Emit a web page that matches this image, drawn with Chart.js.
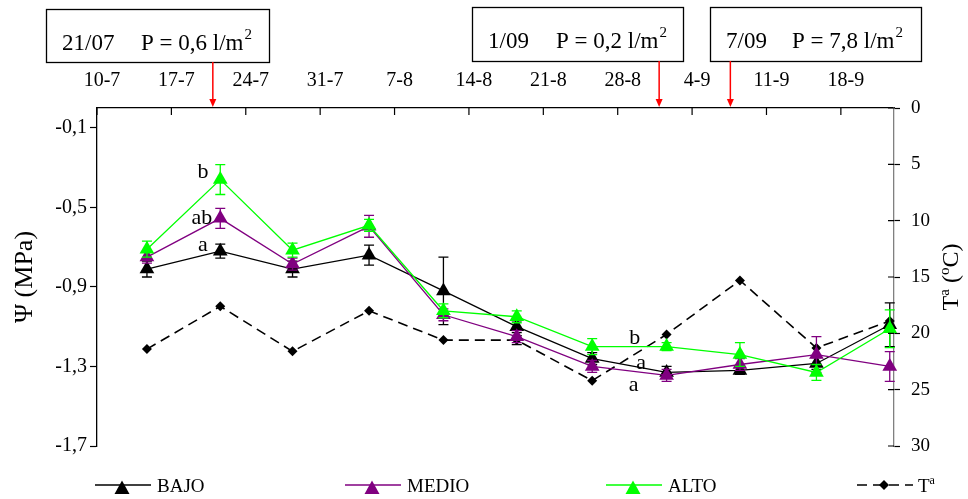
<!DOCTYPE html>
<html>
<head>
<meta charset="utf-8">
<script src="https://cdn.jsdelivr.net/npm/chart.js@4.4.1/dist/chart.umd.min.js"></script>
<style>
  html, body { margin: 0; padding: 0; background: #fff; }
</style>
</head>
<body>
<canvas id="psi-chart" width="968" height="499"></canvas>
<script>
// x values are days counted from 10 July
const weekDays = [0, 7, 14, 21, 28, 35, 42, 49, 56, 63, 70];
const weekLabels = ['10-7', '17-7', '24-7', '31-7', '7-8', '14-8', '21-8', '28-8', '4-9', '11-9', '18-9'];
const sampleDays = [4.7, 11.6, 18.4, 25.6, 32.6, 39.5, 46.6, 53.6, 60.5, 67.7, 74.6];

// water potential (MPa) per treatment, with error bars
const psiBajo  = [-0.81, -0.72, -0.81, -0.74, -0.92, -1.10, -1.26, -1.33, -1.32, -1.285, -1.09];
const psiMedio = [-0.75, -0.555, -0.785, -0.595, -1.04, -1.15, -1.30, -1.345, -1.29, -1.24, -1.30];
const psiAlto  = [-0.71, -0.36, -0.715, -0.59, -1.02, -1.05, -1.20, -1.20, -1.24, -1.33, -1.11];
const errBajo  = [0.04, 0.035, 0.04, 0.05, 0.17, 0.03, 0.03, 0.03, 0.02, 0.03, 0.11];
const errMedio = [0.03, 0.05, 0.03, 0.055, 0.03, 0.03, 0.03, 0.03, 0.03, 0.09, 0.075];
const errAlto  = [0.04, 0.075, 0.035, 0.03, 0.035, 0.03, 0.04, 0.02, 0.06, 0.04, 0.095];

// air temperature (°C), right axis
const tempMedia = [21.4, 17.6, 21.6, 18.0, 20.6, 20.6, 24.2, 20.1, 15.3, 21.3, 18.9];
const errTemp   = [0, 0, 0, 0, 0, 0.4, 0, 0, 0, 0, 0];

const psiTicks = [-1.7, -1.3, -0.9, -0.5, -0.1];

// rain events
const rainDates = ['21/07', '1/09', '7/09'];
const rainAmount = ['0,6', '0,2', '7,8'];
const rainDays = [10.9, 52.9, 59.6];

// significance letters
const sigLetters = [
  { text: 'b', day: 9.97, psi: -0.325 },
  { text: 'ab', day: 9.88, psi: -0.555 },
  { text: 'a', day: 9.97, psi: -0.69 },
  { text: 'b', day: 50.6, psi: -1.16 },
  { text: 'a', day: 51.2, psi: -1.285 },
  { text: 'a', day: 50.5, psi: -1.395 }
];

const FONT = "'Liberation Serif', 'Times New Roman', serif";
Chart.defaults.font.family = FONT;
Chart.defaults.color = '#000';

const toPoints = vals => vals.map((v, i) => ({ x: sampleDays[i], y: v }));

const extras = {
  id: 'extras',
  afterDatasetDraw(chart, args) {
    const ds = chart.data.datasets[args.index];
    if (!ds.err) return;
    const ys = chart.scales[ds.yAxisID];
    const ctx = chart.ctx;
    ctx.save();
    ctx.strokeStyle = ds.borderColor;
    ctx.lineWidth = 1.3;
    ctx.setLineDash([]);
    args.meta.data.forEach((pt, i) => {
      const e = ds.err[i];
      if (!e) return;
      const v = ds.data[i].y;
      const a = ys.getPixelForValue(v + e), b = ys.getPixelForValue(v - e);
      ctx.beginPath();
      ctx.moveTo(pt.x, a); ctx.lineTo(pt.x, b);
      ctx.moveTo(pt.x - 5, a); ctx.lineTo(pt.x + 5, a);
      ctx.moveTo(pt.x - 5, b); ctx.lineTo(pt.x + 5, b);
      ctx.stroke();
    });
    ctx.restore();
  },
  afterDraw(chart) {
    const ctx = chart.ctx;
    const xs = chart.scales.x, y = chart.scales.y, y2 = chart.scales.y2;
    const area = chart.chartArea;
    ctx.save();
    ctx.setLineDash([]);

    // inner tick marks on top axis
    ctx.strokeStyle = '#000';
    ctx.lineWidth = 1.2;
    ctx.beginPath();
    weekDays.forEach(d => {
      const px = xs.getPixelForValue(d);
      ctx.moveTo(px, area.top); ctx.lineTo(px, area.top + 7);
    });
    ctx.stroke();

    // inner half of right axis ticks
    ctx.beginPath();
    y2.ticks.forEach(t => {
      const py = y2.getPixelForValue(t.value);
      ctx.moveTo(area.right - 6, py); ctx.lineTo(area.right, py);
    });
    ctx.stroke();

    // significance letters
    ctx.font = '22px ' + FONT;
    ctx.fillStyle = '#000';
    ctx.textAlign = 'center';
    ctx.textBaseline = 'middle';
    sigLetters.forEach(l => {
      ctx.fillText(l.text, xs.getPixelForValue(l.day), y.getPixelForValue(l.psi));
    });

    // rain boxes and arrows
    const boxes = [
      { x: 46, y: 9, w: 223, h: 53, tx: 62, px: 141, base: 50 },
      { x: 472, y: 7, w: 211, h: 54, tx: 488, px: 556, base: 48 },
      { x: 710, y: 7, w: 211, h: 54, tx: 726, px: 792, base: 48 }
    ];
    boxes.forEach((b, i) => {
      ctx.strokeStyle = '#000';
      ctx.lineWidth = 1.3;
      ctx.strokeRect(b.x + 0.5, b.y + 0.5, b.w, b.h);
      ctx.textAlign = 'left';
      ctx.textBaseline = 'alphabetic';
      ctx.font = '23px ' + FONT;
      ctx.fillText(rainDates[i], b.tx, b.base);
      const s = 'P = ' + rainAmount[i] + ' l/m';
      ctx.fillText(s, b.px, b.base);
      const w = ctx.measureText(s).width;
      ctx.font = '15px ' + FONT;
      ctx.fillText('2', b.px + w + 1, b.base - 11);

      const ax = xs.getPixelForValue(rainDays[i]);
      ctx.strokeStyle = '#ff0000';
      ctx.fillStyle = '#ff0000';
      ctx.lineWidth = 1.5;
      ctx.beginPath();
      ctx.moveTo(ax, b.y + b.h); ctx.lineTo(ax, area.top - 8);
      ctx.stroke();
      ctx.beginPath();
      ctx.moveTo(ax - 3.5, area.top - 9); ctx.lineTo(ax + 3.5, area.top - 9); ctx.lineTo(ax, area.top - 1);
      ctx.closePath();
      ctx.fill();
      ctx.fillStyle = '#000';
    });

    // right axis title, reading bottom to top
    ctx.save();
    ctx.translate(952, (area.top + area.bottom) / 2);
    ctx.rotate(-Math.PI / 2);
    ctx.textBaseline = 'middle';
    ctx.textAlign = 'left';
    const parts = [['T', 24, 0], ['a', 15, -7], [' (', 24, 0], ['o', 15, -7], ['C)', 24, 0]];
    let total = 0;
    parts.forEach(p => { ctx.font = p[1] + 'px ' + FONT; total += ctx.measureText(p[0]).width; });
    let cx = -total / 2;
    parts.forEach(p => {
      ctx.font = p[1] + 'px ' + FONT;
      ctx.fillText(p[0], cx, p[2]);
      cx += ctx.measureText(p[0]).width;
    });
    ctx.restore();

    // legend
    const legendX = [95, 345, 606, 857];
    const ly = 485;
    chart.data.datasets.forEach((ds, i) => {
      const lx = legendX[i];
      ctx.strokeStyle = ds.borderColor;
      ctx.fillStyle = ds.backgroundColor;
      ctx.lineWidth = ds.borderWidth;
      ctx.setLineDash(ds.borderDash || []);
      ctx.beginPath();
      ctx.moveTo(lx, ly); ctx.lineTo(lx + 56, ly);
      ctx.stroke();
      ctx.setLineDash([]);
      const mx = lx + 27;
      ctx.beginPath();
      if (ds.pointStyle === 'triangle') {
        ctx.moveTo(mx, ly - 4.5); ctx.lineTo(mx + 7.5, ly + 9); ctx.lineTo(mx - 7.5, ly + 9);
      } else {
        ctx.moveTo(mx, ly - 5); ctx.lineTo(mx + 5, ly); ctx.lineTo(mx, ly + 5); ctx.lineTo(mx - 5, ly);
      }
      ctx.closePath();
      ctx.fill();
      ctx.fillStyle = '#000';
      ctx.textAlign = 'left';
      ctx.textBaseline = 'alphabetic';
      ctx.font = '19px ' + FONT;
      if (ds.label === 'Tª') {
        ctx.fillText('T', lx + 61, 492);
        const tw = ctx.measureText('T').width;
        ctx.font = '12px ' + FONT;
        ctx.fillText('a', lx + 61 + tw, 484);
      } else {
        ctx.fillText(ds.label, lx + 62, 492);
      }
    });
    ctx.restore();
  }
};

const ctx = document.getElementById('psi-chart').getContext('2d');

const psiChart = new Chart(ctx, {
  type: 'line',
  data: {
    datasets: [
      {
        label: 'BAJO', data: toPoints(psiBajo), err: errBajo, yAxisID: 'y',
        borderColor: '#000000', backgroundColor: '#000000', borderWidth: 1.3,
        pointStyle: 'triangle', pointRadius: 8.5, pointHoverRadius: 8.5, pointBorderWidth: 0,
        order: 3, clip: false
      },
      {
        label: 'MEDIO', data: toPoints(psiMedio), err: errMedio, yAxisID: 'y',
        borderColor: '#800080', backgroundColor: '#800080', borderWidth: 1.3,
        pointStyle: 'triangle', pointRadius: 8.5, pointHoverRadius: 8.5, pointBorderWidth: 0,
        order: 2, clip: false
      },
      {
        label: 'ALTO', data: toPoints(psiAlto), err: errAlto, yAxisID: 'y',
        borderColor: '#00ff00', backgroundColor: '#00ff00', borderWidth: 1.3,
        pointStyle: 'triangle', pointRadius: 8.5, pointHoverRadius: 8.5, pointBorderWidth: 0,
        order: 1, clip: false
      },
      {
        label: 'Tª', data: toPoints(tempMedia), err: errTemp, yAxisID: 'y2',
        borderColor: '#000000', backgroundColor: '#000000', borderWidth: 1.6, borderDash: [10, 6],
        pointStyle: 'rectRot', pointRadius: 5, pointHoverRadius: 5, pointBorderWidth: 0,
        order: 4, clip: false
      }
    ]
  },
  options: {
    responsive: false,
    animation: false,
    layout: { padding: { top: 0, bottom: 53, left: 0, right: 0 } },
    plugins: { legend: { display: false }, tooltip: { enabled: false } },
    elements: { line: { tension: 0 } },
    scales: {
      x: {
        type: 'linear', position: 'top', min: 0, max: 75,
        afterBuildTicks: ax => { ax.ticks = weekDays.map(v => ({ value: v })); },
        afterFit: ax => { ax.height = 108; },
        ticks: {
          callback: v => { const k = weekDays.indexOf(v); return k >= 0 ? weekLabels[k] : ''; },
          padding: 7, labelOffset: 5, autoSkip: false, maxRotation: 0,
          font: { size: 20 }, color: '#000'
        },
        grid: { display: false },
        border: { display: true, color: '#000', width: 1.3 }
      },
      y: {
        position: 'left', min: -1.7, max: 0,
        afterBuildTicks: ax => { ax.ticks = psiTicks.map(v => ({ value: v })); },
        afterFit: ax => { ax.width = 97; },
        ticks: {
          callback: v => v.toFixed(1).replace('.', ','),
          padding: 3, font: { size: 20 }, color: '#000'
        },
        grid: { drawOnChartArea: false, tickLength: 7, color: '#000', tickWidth: 1.2 },
        border: { color: '#000', width: 1.3 },
        title: { display: true, text: 'Ψ (MPa)', font: { size: 26 }, color: '#000', padding: { top: 10, bottom: 0 } }
      },
      y2: {
        position: 'right', min: 0, max: 30, reverse: true,
        afterFit: ax => { ax.width = 74; },
        ticks: { stepSize: 5, padding: 11, font: { size: 19 }, color: '#000' },
        grid: { drawOnChartArea: false, tickLength: 6, color: '#000', tickWidth: 1.2 },
        border: { color: '#808080', width: 1.3 }
      }
    }
  },
  plugins: [extras]
});
</script>
</body>
</html>
